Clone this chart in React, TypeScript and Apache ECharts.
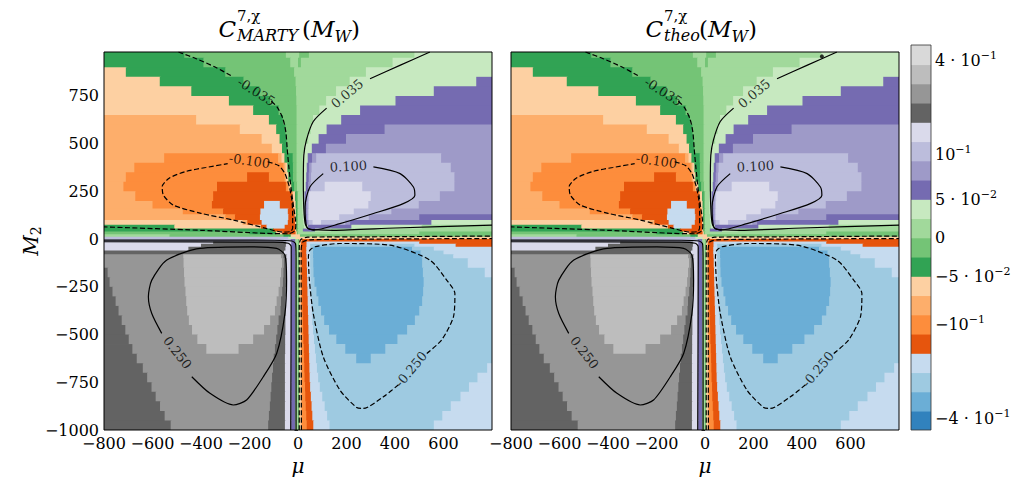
import React, { useEffect, useRef } from 'react';
import * as echarts from 'echarts';

// ---- colour levels (tab20c, low -> high) ----
const levelColors = [
  '#3182bd', '#6baed6', '#9ecae1', '#c6dbef',
  '#e6550d', '#fd8d3c', '#fdae6b', '#fdd0a2',
  '#31a354', '#74c476', '#a1d99b', '#c7e9c0',
  '#756bb1', '#9e9ac8', '#bcbddc', '#dadaeb',
  '#636363', '#969696', '#bdbdbd', '#d9d9d9',
];
const levelKeys = 'ABCDEFGHIJKLMNOPQRST';

// ---- colour bar ticks ----
const colorbarTickPos = [19.22, 14.3, 12, 10, 8, 5.5, 0.62];
const colorbarTickMain = ['4 · 10', '10', '5 · 10', '0', '−5 · 10', '−10', '−4 · 10'];
const colorbarTickExp = ['−1', '−1', '−2', '', '−2', '−1', '−1'];

// ---- axes ----
const muRange = [-800, 800];
const m2Range = [-1000, 980];

// ---- field: M2 band edges and level runs along mu ("level:end mu") ----
const fieldRowEdges = [980, 950, 900, 850, 800, 750, 700, 650, 600, 550, 500, 450, 400, 350, 300, 250, 200, 160, 130, 100, 75, 55, 40, 25, 12, 0,
  -12, -25, -40, -60, -80, -100, -150, -200, -250, -300, -350, -400, -450, -500, -550, -600, -650, -700, -750, -800, -850, -900, -950, -1000];
const fieldRowRuns = [
  'I:-469 J:-50 K:5 J:45 K:480 L',
  'I:-390 J:-32 K:0 J:12 K:390 L',
  'H:-710 I:-300 J:-16 K:280 L',
  'H:-570 I:-225 J:-10 K:213 L:735 M',
  'H:-440 I:-160 J:-8 K:157 L:560 M',
  'H:-285 I:-115 J:-7 K:116 L:402 M',
  'H:-185 I:-80 J:-6 K:88 L:256 M',
  'G:-420 H:-120 I:-62 J:-6 K:62 L:178 M',
  'G:-240 H:-90 I:-52 J:-6 K:52 L:118 M:357 N',
  'G:-150 H:-76 I:-47 J:-6 K:42 L:85 M:198 N',
  'G:-108 H:-66 I:-44 J:-6 K:26 L:57 M:115 N',
  'G:-552 F:-82 G:-68 H:-56 I:-22 J:-6 K:20 L:40 M:58 N:75 O:590 N',
  'G:-675 F:-60 G:-52 H:-44 I:-21 J:-6 K:20 L:36 M:46 N:56 O:630 N',
  'G:-710 F:-210 E:-120 F:-55 G:-49 H:-40 I:-21 J:-6 K:20 L:34 M:44 N:54 O:645 N',
  'G:-720 F:-334 E:-50 F:-42 G:-36 H:-28 I:-16 J:-4 K:20 L:32 M:42 N:52 O:110 P:265 O:645 N',
  'G:-671 F:-350 E:-28 F:-22 H:-12 I:-6 J:0 K:18 L:27 M:34 N:40 O:46 P:300 O:585 N',
  'G:-600 F:-355 E:-140 D:-75 E:-19 H:-10 I:-5 J:0 K:18 L:27 M:34 N:40 O:45 P:290 O:498 N',
  'G:-475 F:-309 E:-155 D:-42 E:-16 H:-9 I:-5 J:0 K:18 L:27 M:34 N:40 O:44 P:230 O:385 N',
  'G:-300 F:-260 E:-157 D:-40 E:-14 H:-8 I:-4 J:0 K:20 L:28 M:35 N:40 O:44 P:170 O:292 N:500 M',
  'H:-229 G:-209 E:-150 D:-42 E:-12 H:-7 I:-4 J:0 K:22 L:30 M:38 N:44 O:60 P:95 O:195 N:215 M:550 L',
  'I:-510 H:-153 E:-130 D:-55 E:-12 H:-7 I:-4 J:0 K:25 L:40 M:220 L:510 K',
  'I:-103 E:-12 H:-7 I:-4 J:0 K:20 M:70 L:135 K',
  'J:-200 I:-90 H:-65 E:-10 H:-5 J:0 K:500 J',
  'K:-530 J:-60 I:-30 H:8 J',
  'O:-40 L:-10 H',
  'O:-30 M:-12 K:0 J:5 H:15 E',
  'P:-350 Q:-50 P:-28 M:-12 K:0 J:5 H:12 E:35 D:500 E',
  'P:-400 Q:-50 P:-28 M:-12 K:0 J:5 H:10 F:14 E:35 D:50 C:480 D:650 E',
  'P:-452 Q:-52 P:-28 M:-12 K:0 J:5 H:10 F:14 E:34 D:50 C:62 B:470 C:560 D',
  'Q:-58 P:-28 M:-12 K:0 J:5 H:10 F:15 E:34 D:50 C:62 B:505 C:600 D',
  'R:-473 S:-70 R:-60 Q:-48 P:-28 M:-12 K:0 J:5 H:10 F:15 E:35 D:50 C:62 B:510 C:640 D',
  'R:-472 S:-66 R:-58 Q:-47 P:-28 M:-12 K:0 J:5 H:11 F:16 E:36 D:50 C:63 B:512 C:700 D',
  'Q:-785 R:-470 S:-70 R:-60 Q:-48 P:-28 M:-12 K:0 J:5 H:11 F:16 E:37 D:51 C:64 B:515 C:770 D',
  'Q:-777 R:-468 S:-74 R:-62 Q:-49 P:-28 M:-12 K:0 J:5 H:11 F:17 E:38 D:52 C:68 B:518 C',
  'Q:-765 R:-464 S:-80 R:-65 Q:-50 P:-28 M:-12 K:0 J:5 H:12 F:17 E:39 D:53 C:76 B:516 C',
  'Q:-752 R:-461 S:-88 R:-70 Q:-51 P:-28 M:-12 K:0 J:5 H:12 F:18 E:40 D:55 C:84 B:512 C',
  'Q:-740 R:-457 S:-95 R:-72 Q:-51 P:-28 M:-12 K:0 J:5 H:12 F:19 E:41 D:57 C:95 B:500 C',
  'Q:-727 R:-450 S:-115 R:-80 Q:-52 P:-28 M:-12 K:0 J:5 H:12 F:20 E:42 D:59 C:108 B:482 C',
  'Q:-712 R:-437 S:-140 R:-85 Q:-52 P:-28 M:-12 K:0 J:5 H:13 F:21 E:43 D:62 C:128 B:450 C',
  'Q:-698 R:-415 S:-185 R:-90 Q:-53 P:-28 M:-12 K:0 J:5 H:13 F:22 E:44 D:66 C:158 B:410 C',
  'Q:-683 R:-378 S:-245 R:-95 Q:-53 P:-28 M:-12 K:0 J:5 H:13 F:24 E:45 D:70 C:195 B:360 C',
  'Q:-665 R:-100 Q:-54 P:-28 M:-12 K:0 J:5 H:13 F:25 E:46 D:74 C:240 B:300 C',
  'Q:-640 R:-103 Q:-54 P:-28 M:-12 K:0 J:5 H:14 F:26 E:47 D:78 C:780 D',
  'Q:-622 R:-107 Q:-54 P:-28 M:-12 K:0 J:5 H:14 F:27 E:48 D:83 C:740 D',
  'Q:-604 R:-110 Q:-54 P:-28 M:-12 K:0 J:5 H:14 F:29 E:50 D:90 C:705 D',
  'Q:-587 R:-113 Q:-54 P:-28 M:-12 K:0 J:5 H:14 F:30 E:53 D:100 C:670 D',
  'Q:-569 R:-116 Q:-54 P:-28 M:-12 K:0 J:5 H:14 F:32 E:56 D:110 C:630 D',
  'Q:-550 R:-120 Q:-54 P:-28 M:-12 K:0 J:5 H:14 F:34 E:59 D:120 C:595 D',
  'Q:-525 R:-123 Q:-54 P:-28 M:-12 K:0 J:5 H:14 F:36 E:63 D:130 C:560 D',
];

// ---- contour lines (mu, M2) ----
const contourM035a = [[-493, 980], [-420, 945], [-340, 900], [-275, 855]];
const contourM035b = [[-110, 722], [-85, 690], [-62, 630], [-50, 560], [-45, 480], [-38, 380], [-28, 260], [-16, 150], [-9, 80], [-12, 45], [-40, 28], [-130, 30], [-400, 46], [-800, 64]];
const contourM100 = [[-125, 405], [-80, 385], [-54, 343], [-35, 270], [-25, 200], [-22, 120], [-22, 60], [-30, 40], [-60, 36], [-129, 55], [-267, 100], [-400, 135], [-514, 178], [-555, 230], [-560, 275], [-530, 320], [-460, 355], [-380, 375], [-290, 395]];
const contourP035a = [[544, 980], [420, 910], [297, 840]];
const contourP035b = [[118, 686], [63, 616], [35, 520], [24, 440], [22, 300], [24, 160], [30, 80], [45, 52], [146, 46], [400, 58], [800, 73]];
const contourP100 = [[311, 378], [421, 343], [476, 273], [482, 230], [434, 186], [311, 134], [173, 81], [63, 47], [36, 64], [29, 169], [49, 273], [104, 343]];
const contourP250 = [[-438, -721], [-363, -808], [-267, -869], [-212, -843], [-143, -721], [-88, -599], [-54, -390], [-47, -215], [-54, -84], [-88, -49], [-198, -41], [-404, -49], [-541, -110], [-603, -215], [-617, -302], [-603, -390], [-562, -494]];
const contourM250 = [[531, -599], [592, -529], [641, -407], [647, -285], [613, -215], [544, -110], [379, -32], [173, -23], [70, -40], [49, -58], [43, -93], [47, -215], [63, -390], [104, -616], [173, -791], [242, -882], [269, -887], [352, -826], [421, -756]];
const contourAxisLL035 = [[-800, -5], [-100, -6], [-25, -10], [-10, -25], [-8, -100], [-8, -1000]];
const contourAxisLL100 = [[-800, -14], [-100, -16], [-40, -22], [-28, -40], [-28, -100], [-30, -1000]];
const contourAxisLRm035 = [[5, -1000], [5, -60], [10, -5], [40, 10], [300, 12], [800, 16]];
const contourAxisLRm100 = [[14, -1000], [13, -60], [20, -15], [50, -4], [300, 0], [800, 3]];
const contourSet = [contourM035a, contourM035b, contourM100, contourP035a, contourP035b, contourP100, contourP250, contourM250, contourAxisLL035, contourAxisLL100, contourAxisLRm035, contourAxisLRm100];
const contourDashed = [true, true, true, false, false, false, false, true, false, false, true, true];

// ---- contour labels ----
const contourLabelPos = [[-172, 772], [-200, 410], [203, 762], [208, 381], [-497, -595], [466, -682]];
const contourLabelText = ['-0.035', '-0.100', '0.035', '0.100', '0.250', '-0.250'];
const contourLabelRot = [-32, -8, 40, 3, -52, 50];

// ---- small marker seen on the right panel's 0.035 line ----
const theoMarker = [[482, 957]];

// ---- layout ----
const FONT = 'DejaVu Serif';
const panelLeft = [104, 511];
const PANEL_TOP = 52;
const PANEL_W = 388;
const PANEL_H = 378;
const CB = { left: 911, top: 45, width: 20, height: 385 };

function buildCells(): number[][] {
  const cells: number[][] = [];
  for (let r = 0; r < fieldRowRuns.length; r++) {
    const yTop = fieldRowEdges[r];
    const yBot = fieldRowEdges[r + 1];
    let x0 = muRange[0];
    const tokens = fieldRowRuns[r].trim().split(/\s+/);
    for (const tk of tokens) {
      const parts = tk.split(':');
      const x1 = parts.length > 1 ? Number(parts[1]) : muRange[1];
      cells.push([x0, x1, yBot, yTop, levelKeys.indexOf(parts[0])]);
      x0 = x1;
    }
  }
  return cells;
}

const renderCell = (_params: any, api: any) => {
  const x0 = api.value(0), x1 = api.value(1), y0 = api.value(2), y1 = api.value(3);
  const lv = api.value(4);
  const p0 = api.coord([x0, y1]);
  const p1 = api.coord([x1, y0]);
  const c = levelColors[lv];
  return {
    type: 'rect',
    shape: { x: p0[0], y: p0[1], width: p1[0] - p0[0] + 0.8, height: p1[1] - p0[1] + 0.8 },
    style: { fill: c },
  };
};

const minus = (v: number) => String(v).replace('-', '−');

function buildOption(): any {
  const cells = buildCells();
  const grids: any[] = [];
  const xAxes: any[] = [];
  const yAxes: any[] = [];
  const series: any[] = [];
  const graphic: any[] = [];

  for (let p = 0; p < 2; p++) {
    grids.push({ left: panelLeft[p], top: PANEL_TOP, width: PANEL_W, height: PANEL_H, containLabel: false });
    xAxes.push({
      gridIndex: p, type: 'value', min: muRange[0], max: muRange[1], interval: 200,
      axisLine: { show: false }, splitLine: { show: false },
      axisTick: { show: true, length: 3.5, lineStyle: { color: '#000', width: 0.8 } },
      axisLabel: { show: true, showMaxLabel: false, margin: 5, color: '#000', fontFamily: FONT, fontSize: 16, formatter: minus },
    });
    yAxes.push({
      gridIndex: p, type: 'value', min: m2Range[0], max: m2Range[1], interval: 250,
      axisLine: { show: false }, splitLine: { show: false },
      axisTick: { show: true, length: 3.5, lineStyle: { color: '#000', width: 0.8 } },
      axisLabel: { show: p === 0, showMaxLabel: false, margin: 5, color: '#000', fontFamily: FONT, fontSize: 16, formatter: minus },
    });
    series.push({
      type: 'custom', xAxisIndex: p, yAxisIndex: p, data: cells,
      encode: { x: [0, 1], y: [2, 3] }, renderItem: renderCell, clip: true, silent: true, z: 1,
    });
    contourSet.forEach((pts, i) => {
      series.push({
        type: 'line', xAxisIndex: p, yAxisIndex: p, data: pts,
        showSymbol: false, symbol: 'none', smooth: 0.25, clip: true, silent: true, z: 3,
        lineStyle: { color: '#000', width: 1.2, type: contourDashed[i] ? [5, 2.5] : 'solid' },
      });
    });
    series.push({
      type: 'scatter', xAxisIndex: p, yAxisIndex: p, symbolSize: 0, silent: true, z: 4,
      data: contourLabelPos.map((pos, i) => ({
        value: pos,
        label: { show: true, formatter: contourLabelText[i], rotate: contourLabelRot[i] },
      })),
      label: { position: 'inside', fontSize: 13, fontFamily: FONT, color: '#000' },
    });
    graphic.push({
      type: 'rect', z: 100, silent: true,
      shape: { x: panelLeft[p], y: PANEL_TOP, width: PANEL_W, height: PANEL_H },
      style: { fill: 'none', stroke: '#000', lineWidth: 1 },
    });
    graphic.push({
      type: 'text', z: 100, x: panelLeft[p] + PANEL_W / 2, y: 466,
      style: { text: 'μ', fontFamily: FONT, fontStyle: 'italic', fontSize: 20, fill: '#000', align: 'center', verticalAlign: 'middle' },
    });
  }
  series.push({
    type: 'scatter', xAxisIndex: 1, yAxisIndex: 1, data: theoMarker, symbol: 'circle', symbolSize: 4,
    itemStyle: { color: '#000' }, silent: true, z: 5,
  });

  // colour bar
  grids.push({ left: CB.left, top: CB.top, width: CB.width, height: CB.height });
  xAxes.push({ gridIndex: 2, type: 'value', min: 0, max: 1, show: false });
  yAxes.push({
    gridIndex: 2, type: 'value', min: 0, max: 20, position: 'right',
    axisLine: { show: false }, splitLine: { show: false },
    axisTick: { show: true, customValues: colorbarTickPos, length: 4, lineStyle: { color: '#000', width: 0.8 } },
    axisLabel: {
      show: true, customValues: colorbarTickPos, margin: 4,
      formatter: (v: number) => {
        let k = 0;
        colorbarTickPos.forEach((t, i) => { if (Math.abs(t - v) < Math.abs(colorbarTickPos[k] - v)) k = i; });
        return colorbarTickExp[k] ? `{m|${colorbarTickMain[k]}}{s|${colorbarTickExp[k]}}` : `{m|${colorbarTickMain[k]}}`;
      },
      rich: {
        m: { fontFamily: FONT, fontSize: 16, color: '#000' },
        s: { fontFamily: FONT, fontSize: 11, color: '#000', padding: [0, 0, 10, 0] },
      },
    },
  });
  series.push({
    type: 'custom', xAxisIndex: 2, yAxisIndex: 2,
    data: levelColors.map((_c, i) => [0, 1, i, i + 1, i]),
    encode: { x: [0, 1], y: [2, 3] }, renderItem: renderCell, clip: true, silent: true,
  });
  graphic.push({
    type: 'rect', z: 100, silent: true,
    shape: { x: CB.left, y: CB.top, width: CB.width, height: CB.height },
    style: { fill: 'none', stroke: '#333', lineWidth: 0.8 },
  });

  // y axis name
  graphic.push({
    type: 'text', z: 100, x: 31, y: 241, rotation: Math.PI / 2,
    style: {
      text: '{i|M}{s|2}', align: 'center', verticalAlign: 'middle', fill: '#000',
      rich: {
        i: { fontFamily: FONT, fontStyle: 'italic', fontSize: 20, fill: '#000' },
        s: { fontFamily: FONT, fontSize: 14, fill: '#000', padding: [10, 0, 0, 0] },
      },
    },
  });

  // titles
  const titleParts = [
    { cRight: 236, sub: 'MARTY', rest: 302 },
    { cRight: 663, sub: 'theo', rest: 699 },
  ];
  titleParts.forEach((t) => {
    graphic.push({ type: 'text', z: 100, x: t.cRight, y: 29, style: { text: 'C', fontFamily: FONT, fontStyle: 'italic', fontSize: 23, fill: '#000', align: 'right', verticalAlign: 'middle' } });
    graphic.push({ type: 'text', z: 100, x: t.cRight + 1, y: 16, style: { text: '7,χ', fontFamily: FONT, fontSize: 15, fill: '#000', align: 'left', verticalAlign: 'middle' } });
    graphic.push({ type: 'text', z: 100, x: t.cRight + 1, y: 35, style: { text: t.sub, fontFamily: FONT, fontStyle: 'italic', fontSize: 16, fill: '#000', align: 'left', verticalAlign: 'middle' } });
    graphic.push({
      type: 'text', z: 100, x: t.rest, y: 29,
      style: {
        text: '{p|(}{i|M}{s|W}{p|)}', align: 'left', verticalAlign: 'middle', fill: '#000',
        rich: {
          p: { fontFamily: FONT, fontSize: 23, fill: '#000' },
          i: { fontFamily: FONT, fontStyle: 'italic', fontSize: 23, fill: '#000' },
          s: { fontFamily: FONT, fontStyle: 'italic', fontSize: 16, fill: '#000', padding: [14, 0, 0, 0] },
        },
      },
    });
  });

  return {
    animation: false,
    backgroundColor: '#fff',
    textStyle: { fontFamily: FONT },
    grid: grids,
    xAxis: xAxes,
    yAxis: yAxes,
    series,
    graphic,
  };
}

export default function App() {
  const ref = useRef<HTMLDivElement>(null);
  useEffect(() => {
    if (!ref.current) return;
    const chart = echarts.init(ref.current, null, { renderer: 'svg' });
    chart.setOption(buildOption());
    return () => chart.dispose();
  }, []);
  return (
    <div
      ref={ref}
      style={{ position: 'absolute', left: 0, top: 0, width: 1019, height: 479, background: '#fff' }}
    />
  );
}
